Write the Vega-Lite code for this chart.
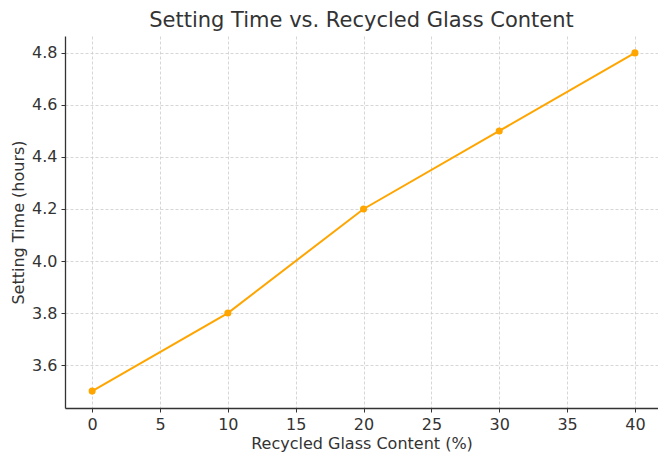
{
  "$schema": "https://vega.github.io/schema/vega-lite/v6.json",
  "width": 593,
  "height": 372,
  "autosize": {"type": "none"},
  "padding": {"left": 65, "top": 36, "right": 0, "bottom": 44},
  "background": "white",
  "title": {
    "text": "Setting Time vs. Recycled Glass Content",
    "font": "DejaVu Sans",
    "fontSize": 21,
    "fontWeight": "normal",
    "color": "#333333",
    "anchor": "middle",
    "offset": 5
  },
  "data": {
    "values": [
      {"content": 0, "time": 3.5},
      {"content": 10, "time": 3.8},
      {"content": 20, "time": 4.2},
      {"content": 30, "time": 4.5},
      {"content": 40, "time": 4.8}
    ]
  },
  "config": {
    "view": {"stroke": null},
    "axis": {
      "labelFont": "DejaVu Sans",
      "labelFontSize": 16,
      "labelColor": "#333333",
      "titleFont": "DejaVu Sans",
      "titleFontSize": 16,
      "titleFontWeight": "normal",
      "titleColor": "#333333",
      "domainColor": "#333333",
      "domainWidth": 1.3,
      "tickColor": "#333333",
      "tickSize": 4,
      "gridColor": "#cccccc",
      "gridDash": [3, 2],
      "gridWidth": 0.8
    }
  },
  "encoding": {
    "x": {
      "field": "content",
      "type": "quantitative",
      "scale": {"domain": [-2, 41.7], "nice": false, "zero": false},
      "axis": {
        "title": "Recycled Glass Content (%)",
        "values": [0, 5, 10, 15, 20, 25, 30, 35, 40],
        "labelPadding": 4,
        "titlePadding": 3
      }
    },
    "y": {
      "field": "time",
      "type": "quantitative",
      "scale": {"domain": [3.435, 4.865], "nice": false, "zero": false},
      "axis": {
        "title": "Setting Time (hours)",
        "values": [3.6, 3.8, 4.0, 4.2, 4.4, 4.6, 4.8],
        "format": ".1f",
        "labelPadding": 4,
        "titlePadding": 5
      }
    }
  },
  "layer": [
    {"mark": {"type": "line", "color": "#FFA500", "strokeWidth": 2}},
    {"mark": {"type": "point", "filled": true, "color": "#FFA500", "size": 50, "opacity": 1}}
  ]
}
